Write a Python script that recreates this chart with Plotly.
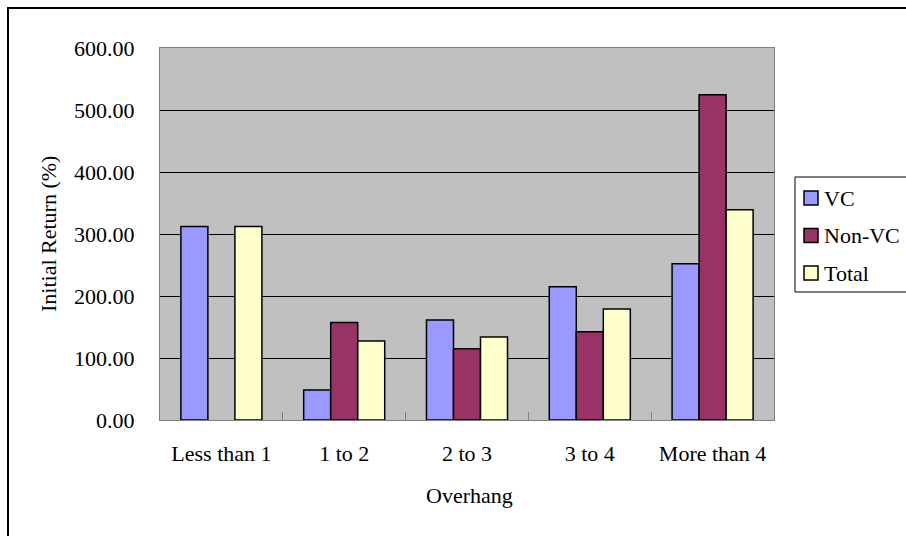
import plotly.graph_objects as go

# Overhang buckets and initial returns (%) by IPO backing
categories = ["Less than 1", "1 to 2", "2 to 3", "3 to 4", "More than 4"]
vc = [312.0, 48.4, 161.3, 215.0, 252.0]
non_vc = [None, 157.4, 115.0, 142.4, 524.7]
total = [312.0, 127.4, 133.9, 179.0, 339.0]

series_names = ["VC", "Non-VC", "Total"]
series_colors = ["#9999FF", "#993366", "#FFFFCC"]

y_ticks = [0, 100, 200, 300, 400, 500, 600]

FONT = "Liberation Serif, Times New Roman, serif"

# Figure geometry (pixels)
W, H = 906, 536
ML, MR, MT, MB = 160, 132, 48, 116
PW, PH = W - ML - MR, H - MT - MB


def px_x(px):
    return (px - ML) / PW


def px_y(py):
    return (H - MB - py) / PH


fig = go.Figure()
for name, vals, color in zip(series_names, [vc, non_vc, total], series_colors):
    fig.add_trace(go.Bar(
        x=categories, y=vals, name=name,
        marker=dict(color=color, line=dict(color="black", width=1.5)),
    ))

shapes = [
    # outer chart frame
    dict(type="rect", xref="paper", yref="paper",
         x0=px_x(8), x1=px_x(910), y0=px_y(540), y1=px_y(8),
         line=dict(color="black", width=2), fillcolor="rgba(0,0,0,0)",
         layer="above"),
    # legend box
    dict(type="rect", xref="paper", yref="paper",
         x0=px_x(795), x1=px_x(912), y0=px_y(292), y1=px_y(177),
         line=dict(color="black", width=1), fillcolor="white",
         layer="above"),
]
annotations = [
    dict(text="Initial Return (%)", xref="paper", yref="paper",
         x=px_x(48), y=0.5, textangle=-90, showarrow=False,
         xanchor="center", yanchor="middle"),
    dict(text="Overhang", xref="paper", yref="paper",
         x=px_x(469), y=px_y(495), showarrow=False,
         xanchor="center", yanchor="middle"),
]

# legend entries: swatch + label
for i, (name, color) in enumerate(zip(series_names, series_colors)):
    cy = 198 + i * 37.5
    shapes.append(dict(
        type="rect", xref="paper", yref="paper",
        x0=px_x(804), x1=px_x(818), y0=px_y(cy + 7), y1=px_y(cy - 7),
        line=dict(color="black", width=1.5), fillcolor=color, layer="above",
    ))
    annotations.append(dict(
        text=name, xref="paper", yref="paper",
        x=px_x(822), y=px_y(cy), showarrow=False,
        xanchor="left", yanchor="middle",
        font=dict(family=FONT, size=22, color="black"),
    ))

fig.update_layout(
    width=W, height=H,
    margin=dict(l=ML, r=MR, t=MT, b=MB, autoexpand=False),
    paper_bgcolor="white",
    plot_bgcolor="#C0C0C0",
    font=dict(family=FONT, size=22, color="black"),
    barmode="group",
    bargap=0.34,
    bargroupgap=0,
    showlegend=False,
    xaxis=dict(
        type="category",
        showline=True, linecolor="#808080", linewidth=1, mirror=True,
        ticks="inside", tickson="boundaries", ticklen=8, tickcolor="#808080",
        showgrid=False,
        ticklabelstandoff=14,
    ),
    yaxis=dict(
        range=[0, 600],
        tickvals=y_ticks,
        tickformat=".2f",
        showline=True, linecolor="#808080", linewidth=1, mirror=True,
        ticks="inside", ticklen=7, tickcolor="black",
        showgrid=True, gridcolor="black", gridwidth=1,
        zeroline=False,
        ticklabelstandoff=20,
    ),
    annotations=annotations,
    shapes=shapes,
)

fig.write_html("out.html")
